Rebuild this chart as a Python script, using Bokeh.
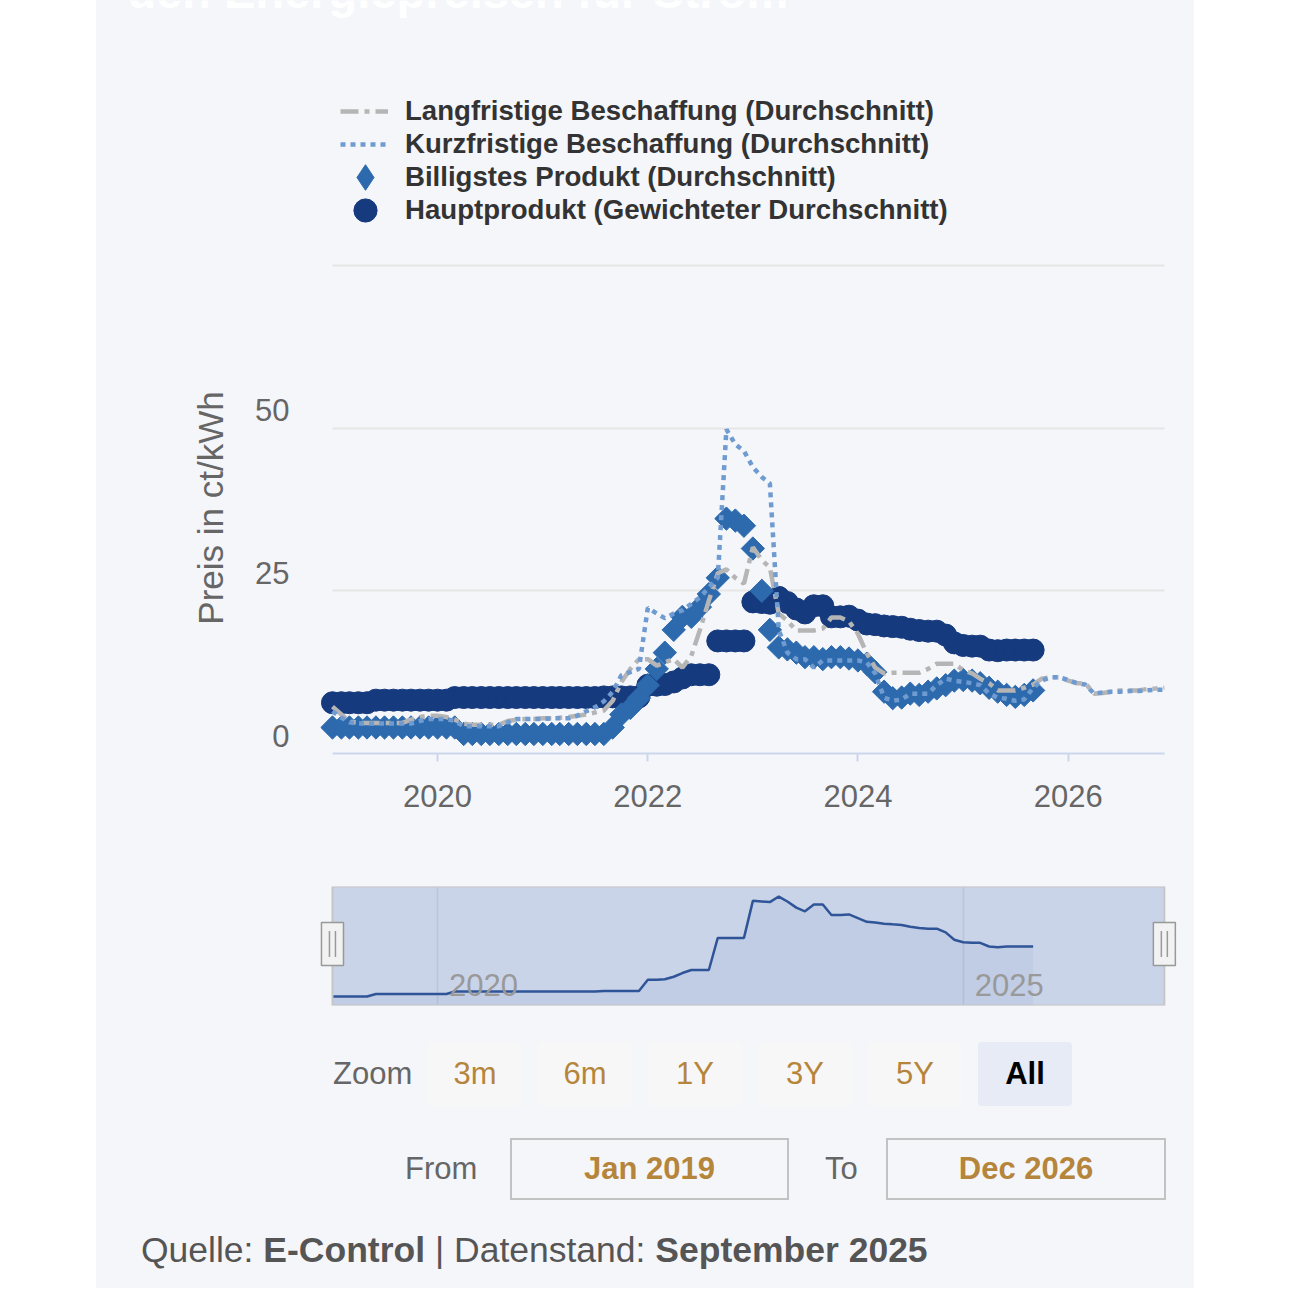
import numpy as np
import pandas as pd
from bokeh.plotting import figure
from bokeh.models import (Range1d, FixedTicker, LinearAxis, DatetimeAxis,
                          DatetimeTickFormatter, Grid, Legend, LegendItem, Label,
                          Div, Spacer, Plot)
from bokeh.layouts import column, row
from bokeh.embed import file_html
from bokeh.resources import INLINE

# ---------------- data ----------------
months = pd.date_range("2019-01-01", "2026-12-01", freq="MS")   # 96 months

langfristig = [
    7.2, 6.0, 4.9, 4.7, 4.7, 4.7, 4.7, 4.7, 4.7, 5.2,
    5.6, 5.8, 5.8, 5.6, 5.2, 4.6, 4.4, 4.4, 4.4, 4.4,
    5.0, 5.2, 5.3, 5.3, 5.4, 5.4, 5.5, 5.6, 5.8, 6.0,
    6.3, 6.6, 8.1, 11.0, 13.0, 14.5, 14.5, 13.5, 14.0, 14.5,
    13.2, 15.0, 19.0, 23.5, 27.7, 28.3, 27.0, 26.1, 31.7, 29.7,
    28.6, 21.5, 20.4, 18.9, 18.9, 18.9, 19.2, 20.9, 20.9, 20.3,
    18.4, 15.4, 13.2, 12.3, 12.4, 12.4, 12.4, 12.4, 13.0, 13.8,
    13.8, 13.8, 12.8, 12.3, 11.5, 10.8, 9.7, 9.7, 9.7, 10.1,
    10.6, 11.5, 11.7, 11.7, 11.2, 10.8, 10.8, 9.2, 9.3, 9.5,
    9.7, 9.7, 9.7, 9.9, 10.0, 10.1]

kurzfristig = [
    6.5, 5.5, 4.8, 4.6, 4.6, 4.6, 4.6, 4.6, 4.6, 4.6,
    5.0, 5.3, 5.3, 5.3, 5.0, 4.2, 4.2, 4.2, 4.2, 4.2,
    4.8, 5.3, 5.3, 5.3, 5.3, 5.4, 5.4, 5.4, 5.8, 6.5,
    7.1, 8.0, 9.5, 12.0, 12.5, 13.0, 22.4, 21.5, 20.8, 21.5,
    22.0, 23.0, 24.0, 25.5, 27.0, 49.8, 47.5, 46.5, 44.0, 42.5,
    41.5, 19.0, 15.5, 14.5, 14.5, 13.2, 14.3, 14.3, 14.3, 14.3,
    14.3, 14.0, 12.3, 8.6, 8.1, 8.3, 9.2, 9.2, 9.2, 10.5,
    11.5, 11.2, 11.0, 10.8, 10.5, 9.2, 8.6, 8.4, 8.1, 8.3,
    10.1, 11.2, 11.7, 11.7, 11.3, 10.8, 10.6, 9.2, 9.4, 9.5,
    9.5, 9.6, 9.6, 9.7, 9.8, 9.8]

billigstes = [
    4.0, 4.0, 4.0, 4.0, 4.0, 4.0, 4.0, 4.0, 4.0, 4.0,
    4.0, 4.0, 4.0, 4.0, 4.0, 3.0, 3.0, 3.0, 3.0, 3.0,
    3.0, 3.0, 3.0, 3.0, 3.0, 3.0, 3.0, 3.0, 3.0, 3.0,
    3.0, 3.0, 4.0, 6.0, 7.0, 8.5, 10.5, 13.0, 15.5, 19.0,
    21.0, 21.0, 22.5, 24.5, 27.0, 36.1, 35.8, 35.0, 31.5, 25.0,
    19.0, 16.3, 16.0, 15.5, 14.8, 14.8, 14.5, 14.8, 14.8, 14.6,
    14.3, 13.8, 12.5, 9.5, 8.5, 8.6, 9.2, 9.0, 9.5, 10.0,
    10.5, 11.2, 11.3, 11.2, 10.8, 10.1, 9.5, 9.0, 8.7, 9.0,
    9.7]

hauptprodukt = [
    7.8, 7.8, 7.8, 7.8, 7.8, 8.2, 8.2, 8.2, 8.2, 8.2,
    8.2, 8.2, 8.2, 8.2, 8.6, 8.6, 8.6, 8.6, 8.6, 8.6,
    8.6, 8.6, 8.6, 8.6, 8.6, 8.6, 8.6, 8.6, 8.6, 8.6,
    8.6, 8.7, 8.7, 8.7, 8.7, 8.7, 10.5, 10.5, 10.6, 11.0,
    11.6, 12.1, 12.1, 12.1, 17.3, 17.3, 17.3, 17.3, 23.3, 23.2,
    23.1, 24.0, 23.2, 22.2, 21.6, 22.7, 22.7, 21.0, 21.0, 21.1,
    20.5, 19.9, 19.8, 19.6, 19.5, 19.4, 19.1, 18.9, 18.8, 18.8,
    18.2, 17.0, 16.6, 16.5, 16.5, 15.9, 15.8, 15.9, 15.9, 15.9,
    15.9]

series_labels = ["Langfristige Beschaffung (Durchschnitt)",
                 "Kurzfristige Beschaffung (Durchschnitt)",
                 "Billigstes Produkt (Durchschnitt)",
                 "Hauptprodukt (Gewichteter Durchschnitt)"]
title_text = "den Energiepreisen für Strom"
y_axis_title = "Preis in ct/kWh"
main_year_ticks = [2020, 2022, 2024, 2026]
nav_year_ticks = [2020, 2025]
y_label_ticks = [0, 25, 50]
y_grid_ticks = [0, 25, 50, 75]
zoom_buttons = ["3m", "6m", "1Y", "3Y", "5Y", "All"]
selected_button = "All"
range_from = "Jan 2019"
range_to = "Dec 2026"
source_name = "E-Control"
data_date = "September 2025"

# ---------------- style / geometry ----------------
PANEL = "#f5f6fa"
FONT = "Liberation Sans"
GRAY_LINE = "#b5b5b5"
DOT_BLUE = "#6f9bd0"
DIAMOND = "#2d6aad"
NAVY = "#163a7e"
GOLD = "#b5853b"

PANEL_X = 96
PANEL_W = 1098

YEAR_MS = 365.25 * 86400000.0
PX_PER_YEAR = 105.1
HAS_FRAME_ALIGN = "frame_align" in Plot.properties()


def ms(ts):
    return pd.Timestamp(ts).value / 1e6


T2020 = ms("2020-01-01")


def page_x_to_ms(px):
    return T2020 + (px - 437.0) / PX_PER_YEAR * YEAR_MS


def year_ms(y):
    return ms(f"{y}-01-01")


T_START = ms(months[0])
T_END = ms(months[-1])
n_obs = len(hauptprodukt)
months_obs = months[:n_obs]

MARK = dict(
    lang=dict(line_color=GRAY_LINE, line_width=4.5, line_dash="18 6 5 6"),
    kurz=dict(line_color=DOT_BLUE, line_width=4.5, line_dash="5 5"),
    billig=dict(marker="square", angle=np.pi / 4, fill_color=DIAMOND, line_color=DIAMOND),
    haupt=dict(marker="circle", fill_color=NAVY, line_color=NAVY),
)


def base_fig(**kw):
    f = figure(toolbar_location=None, output_backend="svg", title=None,
               background_fill_color=PANEL, background_fill_alpha=0,
               border_fill_color=PANEL, outline_line_color=None, **kw)
    if HAS_FRAME_ALIGN:
        f.frame_align = False
    return f


# ---------------- legend strip (top of panel) ----------------
H0 = 240
if HAS_FRAME_ALIGN:
    LF_L, LF_R = PANEL_X, PANEL_X + PANEL_W
else:
    LF_L, LF_R = 320, 1178
leg = base_fig(width=PANEL_W, height=H0, x_axis_location=None, y_axis_location=None,
               x_range=Range1d(T_START, T_END), y_range=Range1d(1000, 1001),
               min_border_left=LF_L - PANEL_X, min_border_right=PANEL_X + PANEL_W - LF_R,
               min_border_top=0, min_border_bottom=0)
leg.xgrid.visible = False
leg.ygrid.visible = False
l_haupt = leg.scatter(months_obs, hauptprodukt, size=22, **MARK["haupt"])
l_billig = leg.scatter(months_obs, billigstes, size=22, marker="diamond",
                       fill_color=DIAMOND, line_color=DIAMOND)
l_lang = leg.line(months, langfristig, **MARK["lang"])
l_kurz = leg.line(months, kurzfristig, **MARK["kurz"])


def add_legend(label, renderer, left_px, center_py, gw, gh, standoff):
    bottom_py = center_py + gh / 2.0
    lg = Legend(items=[LegendItem(label=label, renderers=[renderer])],
                location=(left_px - LF_L, H0 - bottom_py),
                glyph_width=gw, glyph_height=gh, label_height=20,
                label_standoff=standoff, padding=0, margin=0, spacing=0,
                border_line_color=None, background_fill_alpha=0,
                label_text_font=FONT, label_text_font_size="27.6px",
                label_text_font_style="bold", label_text_color="#333333")
    leg.add_layout(lg, "center")


add_legend(series_labels[0], l_lang, 340, 111, 48, 34, 17)
add_legend(series_labels[1], l_kurz, 340, 144, 48, 34, 17)
add_legend(series_labels[2], l_billig, 333, 177, 64, 64, 8)
add_legend(series_labels[3], l_haupt, 336, 210, 58, 58, 11)

leg.add_layout(Label(x=127 - LF_L, y=H0 + 9, x_units="screen", y_units="screen",
                     text=title_text, text_color="#ffffff", text_font=FONT,
                     text_font_size="47px", text_font_style="bold",
                     text_baseline="alphabetic"))

# ---------------- main chart ----------------
H1 = 620
TOP1 = H0
FR_L, FR_R = 320, 1178
FR_B = 753
PXU = 6.507
FR_T = 262
YTOP = (FR_B - FR_T) / PXU

p = base_fig(width=PANEL_W, height=H1, x_axis_type="datetime", y_axis_location=None,
             x_range=Range1d(page_x_to_ms(FR_L), page_x_to_ms(FR_R)),
             y_range=Range1d(0, YTOP),
             min_border_left=FR_L - PANEL_X, min_border_right=PANEL_X + PANEL_W - FR_R,
             min_border_top=FR_T - TOP1, min_border_bottom=TOP1 + H1 - FR_B)
p.xgrid.visible = False
p.ygrid.visible = False

yg = Grid(dimension=1, ticker=FixedTicker(ticks=y_grid_ticks),
          grid_line_color="#e6e6e6", grid_line_width=2)
if "cross_bounds" in Grid.properties():
    yg.cross_bounds = (T_START, T_END)
p.add_layout(yg)

xax = p.xaxis[0]
xax.ticker = FixedTicker(ticks=[year_ms(y) for y in main_year_ticks])
xax.formatter = DatetimeTickFormatter(years="%Y", months="%Y", days="%Y")
xax.bounds = (T_START, T_END)
xax.axis_line_color = "#ccd6eb"
xax.axis_line_width = 2
xax.major_tick_line_color = "#ccd6eb"
xax.major_tick_line_width = 2
xax.major_tick_out = 8
xax.major_tick_in = 0
xax.minor_tick_line_color = None
xax.major_label_text_font = FONT
xax.major_label_text_font_size = "31px"
xax.major_label_text_color = "#666666"
xax.major_label_standoff = 23

shift = 18.0 / PXU
p.extra_y_ranges = {"ylab": Range1d(-shift, YTOP - shift)}
yax = LinearAxis(y_range_name="ylab", ticker=FixedTicker(ticks=y_label_ticks),
                 axis_label=y_axis_title)
yax.axis_line_color = None
yax.major_tick_line_color = None
yax.minor_tick_line_color = None
yax.major_label_standoff = 25
yax.major_label_text_font = FONT
yax.major_label_text_font_size = "31px"
yax.major_label_text_color = "#666666"
yax.axis_label_text_font = FONT
yax.axis_label_text_font_size = "35px"
yax.axis_label_text_font_style = "normal"
yax.axis_label_text_color = "#666666"
yax.axis_label_standoff = 22
p.add_layout(yax, "left")

p.scatter(months_obs, hauptprodukt, size=22, **MARK["haupt"])
p.scatter(months_obs, billigstes, size=16.5, **MARK["billig"])
p.line(months, langfristig, **MARK["lang"])
p.line(months, kurzfristig, **MARK["kurz"])

# ---------------- navigator ----------------
H2 = 160
NAV_TOP = TOP1 + H1
if HAS_FRAME_ALIGN:
    NF_L, NF_R = 316, 1182
else:
    NF_L, NF_R = FR_L, FR_R
NF_T, NF_B = 886, 1005
NAV_PXU = 6.17
nav_ybot = 7.8 - (NF_B - 996) / NAV_PXU
nav_ytop = nav_ybot + (NF_B - NF_T) / NAV_PXU

nav = base_fig(width=PANEL_W, height=H2, x_axis_location=None, y_axis_location=None,
               x_range=Range1d(page_x_to_ms(NF_L), page_x_to_ms(NF_R)),
               y_range=Range1d(nav_ybot, nav_ytop),
               min_border_left=NF_L - PANEL_X, min_border_right=PANEL_X + PANEL_W - NF_R,
               min_border_top=NF_T - NAV_TOP, min_border_bottom=NAV_TOP + H2 - NF_B)
nav.xgrid.visible = False
nav.ygrid.visible = False

ng = Grid(dimension=0, ticker=FixedTicker(ticks=[year_ms(y) for y in nav_year_ticks]),
          grid_line_color="#e2e2e2", grid_line_width=1.5)
nav.add_layout(ng)

nav.quad(left=[T_START], right=[T_END], bottom=[nav_ybot], top=[nav_ytop],
         fill_color="#6685c2", fill_alpha=0.3, line_color=None)
nav.varea(x=months_obs, y1=nav_ybot, y2=hauptprodukt, fill_color="#335cad", fill_alpha=0.06)
nav.line(months_obs, hauptprodukt, line_color="#2f5497", line_width=2.5)
nav.quad(left=[T_START], right=[T_END], bottom=[nav_ybot], top=[nav_ytop],
         fill_color=None, line_color="#c6c6c6", line_width=2)

ms_per_px = YEAR_MS / PX_PER_YEAR
handle_mid = nav_ytop - (943.5 - NF_T) / NAV_PXU
nav.rect(x=[T_START, T_END], y=[handle_mid, handle_mid], width=22, height=43,
         width_units="screen", height_units="screen",
         fill_color="#f2f2f2", line_color="#999999", line_width=1.5)
hx = [T_START - 3 * ms_per_px, T_START + 3 * ms_per_px,
      T_END - 3 * ms_per_px, T_END + 3 * ms_per_px]
nav.segment(x0=hx, x1=hx, y0=[handle_mid - 13 / NAV_PXU] * 4,
            y1=[handle_mid + 13 / NAV_PXU] * 4, line_color="#999999", line_width=1.5)

lab_shift = 46 * ms_per_px
xr = nav.x_range
nav.extra_x_ranges = {"navlab": Range1d(xr.start - lab_shift, xr.end - lab_shift)}
nax = DatetimeAxis(x_range_name="navlab",
                   ticker=FixedTicker(ticks=[year_ms(y) for y in nav_year_ticks]),
                   formatter=DatetimeTickFormatter(years="%Y", months="%Y", days="%Y"))
nax.axis_line_color = None
nax.major_tick_line_color = None
nax.minor_tick_line_color = None
nax.major_label_standoff = -38
nax.major_label_text_font = FONT
nax.major_label_text_font_size = "31px"
nax.major_label_text_color = "#999999"
nav.add_layout(nax, "below")

# ---------------- range selector + footer ----------------
H3 = 268
parts = []
parts.append('<div style="position:absolute;left:237px;top:22px;line-height:64px;'
             'font-size:31px;color:#666666;">Zoom</div>')
for i, lab in enumerate(zoom_buttons):
    cx = 475 + 110 * i - PANEL_X
    sel = lab == selected_button
    parts.append(
        f'<div style="position:absolute;left:{cx - 47}px;top:22px;width:94px;height:64px;'
        f'border-radius:4px;background:{"#e6ebf5" if sel else "#f7f7f7"};'
        f'color:{"#000000" if sel else GOLD};font-weight:{"bold" if sel else "normal"};'
        f'font-size:31px;line-height:64px;text-align:center;">{lab}</div>')
parts.append('<div style="position:absolute;left:309px;top:118px;line-height:62px;'
             'font-size:31px;color:#666666;">From</div>')
parts.append(f'<div style="position:absolute;left:414px;top:118px;width:279px;height:62px;'
             f'box-sizing:border-box;border:2px solid #c2c2c2;line-height:58px;text-align:center;'
             f'font-size:31px;font-weight:bold;color:{GOLD};">{range_from}</div>')
parts.append('<div style="position:absolute;left:729px;top:118px;line-height:62px;'
             'font-size:31px;color:#666666;">To</div>')
parts.append(f'<div style="position:absolute;left:790px;top:118px;width:280px;height:62px;'
             f'box-sizing:border-box;border:2px solid #c2c2c2;line-height:58px;text-align:center;'
             f'font-size:31px;font-weight:bold;color:{GOLD};">{range_to}</div>')
parts.append(f'<div style="position:absolute;left:45px;top:208px;line-height:44px;white-space:nowrap;'
             f'font-size:35.5px;color:#555555;">Quelle: <b>{source_name}</b> | Datenstand: '
             f'<b>{data_date}</b></div>')
html = (f'<div style="position:relative;width:{PANEL_W}px;height:{H3}px;background:{PANEL};'
        f'font-family:\'{FONT}\',Arial,sans-serif;overflow:hidden;">' + "".join(parts) + '</div>')
div = Div(text=html, width=PANEL_W, height=H3, styles={"margin": "0", "padding": "0"})

panel = column(leg, p, nav, div, spacing=0, styles={"background-color": PANEL})
layout = row(Spacer(width=PANEL_X, height=H0 + H1 + H2 + H3), panel, spacing=0)

open("out.html", "w").write(file_html(layout, INLINE))
